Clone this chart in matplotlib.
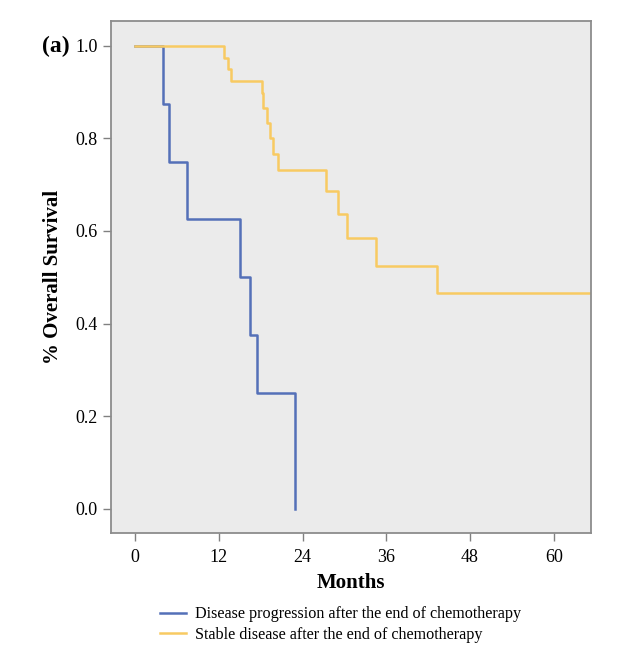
import matplotlib
matplotlib.use("Agg")
import matplotlib.pyplot as plt
from matplotlib.lines import Line2D

plt.rcParams['font.family'] = ['Liberation Serif', 'DejaVu Serif']

# Kaplan-Meier steps
prog_months = [0, 4.0, 4.8, 7.5, 15.0, 16.5, 17.5, 22.9]
prog_surv = [1.0, 0.875, 0.75, 0.625, 0.5, 0.375, 0.25, 0.0]

stable_months = [0, 12.8, 13.3, 13.7, 18.2, 18.4, 18.9, 19.3, 19.8, 20.5,
                 27.4, 29.1, 30.4, 34.6, 43.3, 66.0]
stable_surv = [1.0, 0.974, 0.949, 0.923, 0.897, 0.866, 0.834, 0.800, 0.766, 0.732,
               0.686, 0.636, 0.584, 0.525, 0.467, 0.467]

labels = ["Disease progression after the end of chemotherapy",
          "Stable disease after the end of chemotherapy"]
colors = ["#5470b8", "#f8ca62"]
x_ticks = [0, 12, 24, 36, 48, 60]
y_ticks = [0.0, 0.2, 0.4, 0.6, 0.8, 1.0]

fig = plt.figure(figsize=(6.4, 6.59), dpi=100)
ax = fig.add_axes([0.1734, 0.1912, 0.7496, 0.7774])
ax.set_facecolor("#ebebeb")

ax.step(prog_months, prog_surv, where='post', color=colors[0], lw=1.8)
ax.step(stable_months, stable_surv, where='post', color=colors[1], lw=1.8)

ax.set_xlim(-3.45, 65.3)
ax.set_ylim(-0.052, 1.054)
ax.set_xticks(x_ticks)
ax.set_yticks(y_ticks)
ax.set_yticklabels([f"{v:.1f}" for v in y_ticks])
ax.tick_params(axis='both', labelsize=13, color="#808080", length=6, width=1)
ax.tick_params(axis='x', pad=5.5)

for s in ax.spines.values():
    s.set_color("#8c8c8c")
    s.set_linewidth(1.3)

ax.set_xlabel("Months", fontsize=15, fontweight='bold', labelpad=5)
ax.set_ylabel("% Overall Survival", fontsize=15, fontweight='bold', labelpad=9)

fig.text(0.065, 0.930, "(a)", fontsize=17, fontweight='bold', va='center')

handles = [Line2D([], [], color=c, lw=1.8) for c in colors]
fig.legend(handles, labels, loc='upper left', bbox_to_anchor=(0.25, 0.080),
           frameon=False, fontsize=11.6, handlelength=1.6, handletextpad=0.56,
           labelspacing=0.28, borderpad=0, borderaxespad=0)

fig.savefig("out.png", dpi=100)
